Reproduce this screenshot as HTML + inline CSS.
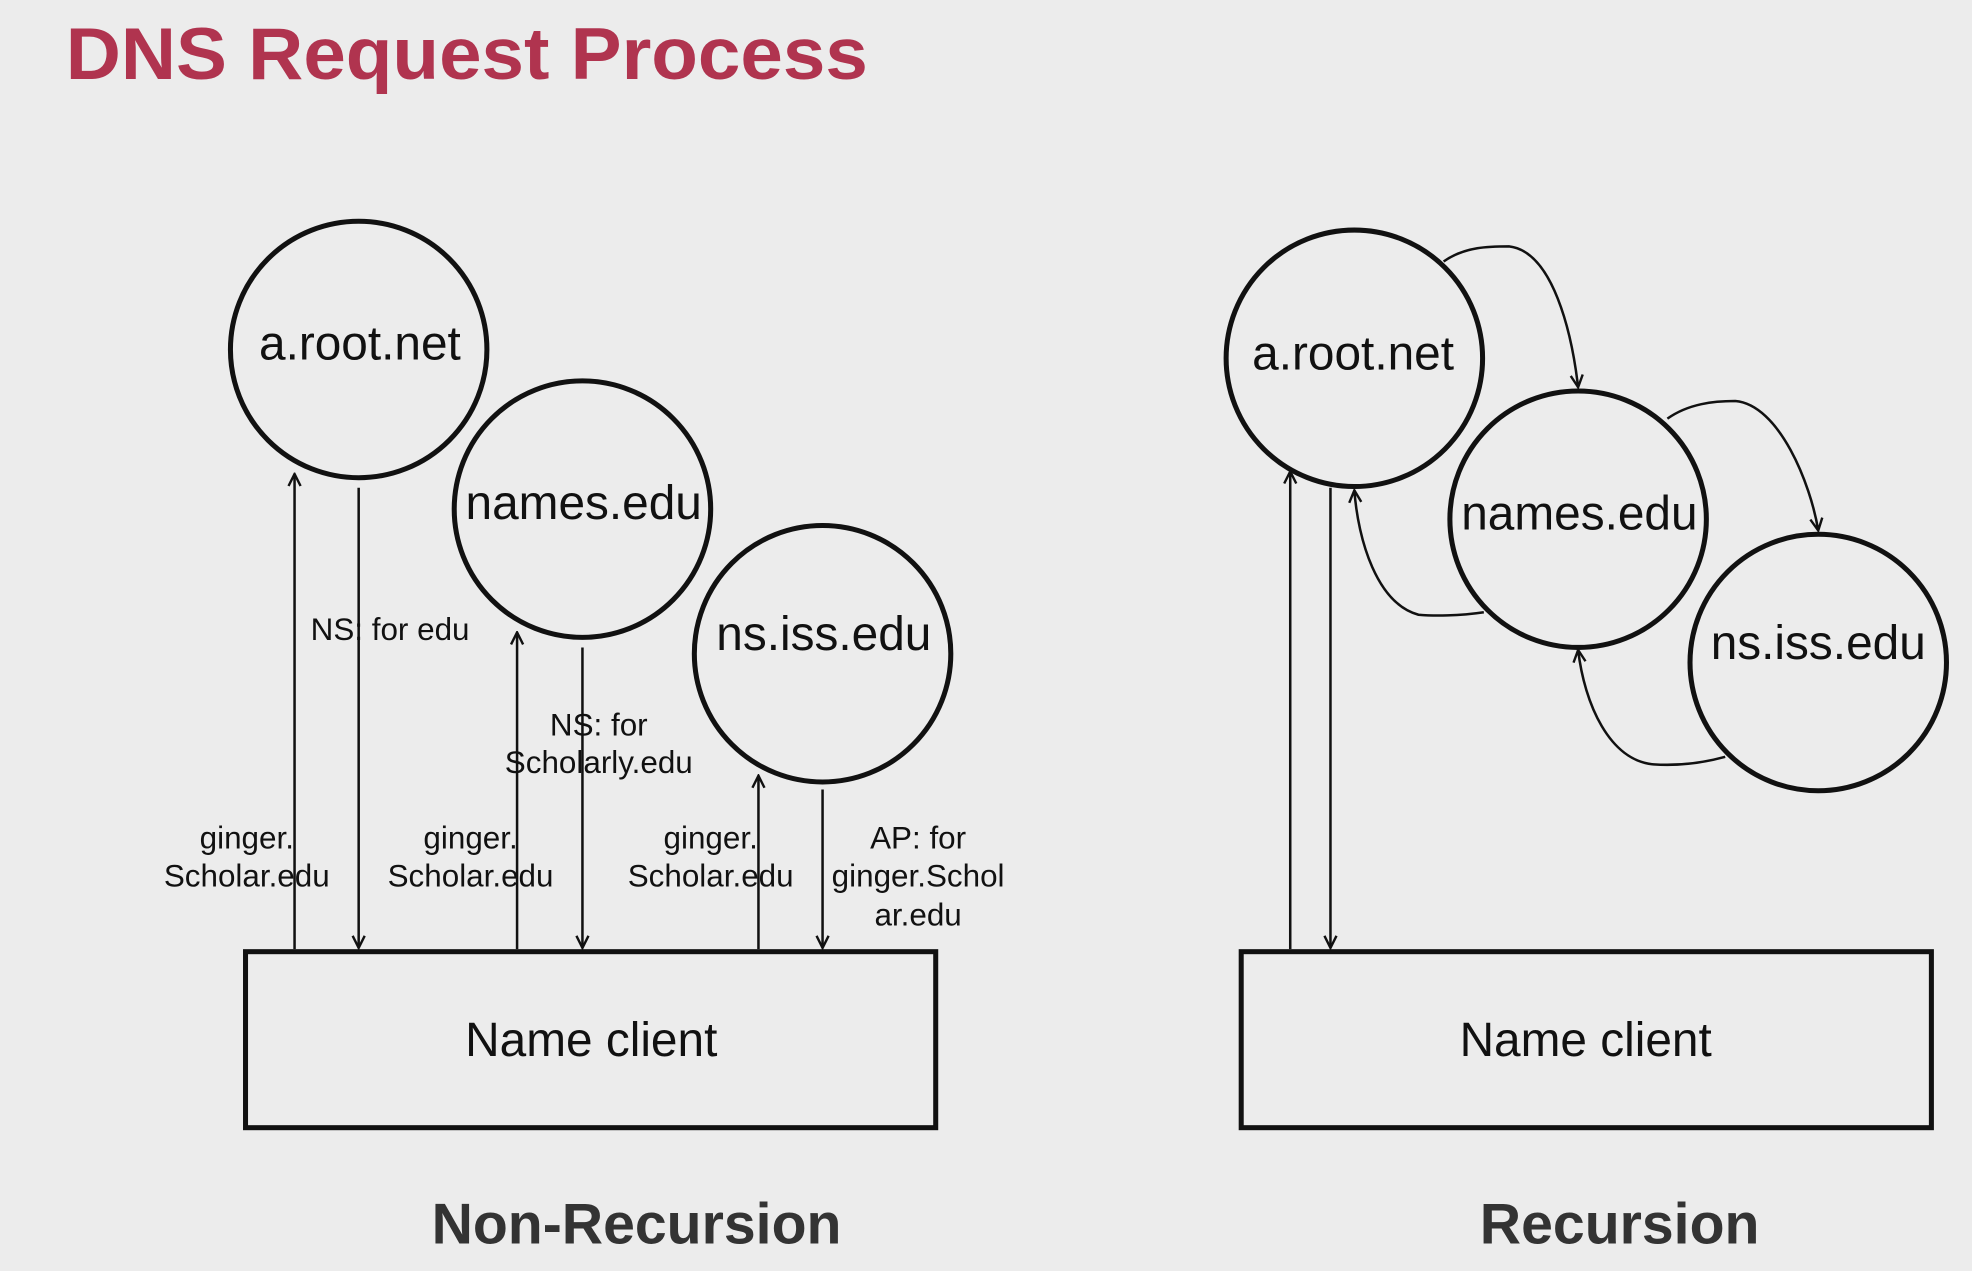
<!DOCTYPE html>
<html><head><meta charset="utf-8"><style>
html,body{margin:0;padding:0;background:#ececec;}
svg{display:block;}
text{font-family:"Liberation Sans",Arial,sans-serif;fill:#111;}
</style></head><body>
<svg width="1972" height="1271" viewBox="0 0 1568 1011" xmlns="http://www.w3.org/2000/svg">
<defs>
<marker id="b" viewBox="0 0 10 10" refX="9" refY="5" markerWidth="12" markerHeight="12" orient="auto" markerUnits="userSpaceOnUse">
<path d="M1,1 L9,5 L1,9" fill="none" stroke="#111" stroke-width="1.6"/>
</marker>
</defs>
<rect width="1568" height="1011" fill="#ececec"/>
<text x="52" y="63" font-size="58" font-weight="bold" style="fill:#b0344f" textLength="638" lengthAdjust="spacingAndGlyphs">DNS Request Process</text>

<g fill="none" stroke="#111" stroke-width="4">
<circle cx="285" cy="278" r="102"/>
<circle cx="463" cy="405" r="102"/>
<circle cx="654" cy="520" r="102"/>
<circle cx="1077" cy="285" r="102"/>
<circle cx="1255" cy="413" r="102"/>
<circle cx="1446" cy="527" r="102"/>
<rect x="195" y="757" width="549" height="140"/>
<rect x="987" y="757" width="549" height="140"/>
</g>

<g stroke="#111" stroke-width="2" fill="none">
<line x1="234" y1="755" x2="234" y2="377" marker-end="url(#b)"/>
<line x1="285" y1="388" x2="285" y2="754" marker-end="url(#b)"/>
<line x1="411" y1="755" x2="411" y2="503" marker-end="url(#b)"/>
<line x1="463" y1="515" x2="463" y2="754" marker-end="url(#b)"/>
<line x1="603" y1="755" x2="603" y2="617" marker-end="url(#b)"/>
<line x1="654" y1="628" x2="654" y2="754" marker-end="url(#b)"/>
<line x1="1026" y1="755" x2="1026" y2="375" marker-end="url(#b)"/>
<line x1="1058" y1="388" x2="1058" y2="754" marker-end="url(#b)"/>
<path d="M1148,208 C1165,196 1185,196 1200,196 C1235,200 1250,265 1255,308" marker-end="url(#b)"/>
<path d="M1326,333 C1343,321 1363,319 1380,319 C1415,322 1440,385 1446,422" marker-end="url(#b)"/>
<path d="M1180,487 C1160,490 1140,490 1128,489 C1095,480 1080,430 1077,390" marker-end="url(#b)"/>
<path d="M1372,602 C1350,608 1330,609 1315,608 C1280,605 1260,560 1255,517" marker-end="url(#b)"/>
</g>

<g font-size="38" text-anchor="middle">
<text x="286" y="286">a.root.net</text>
<text x="464" y="413">names.edu</text>
<text x="655" y="517">ns.iss.edu</text>
<text x="1076" y="294">a.root.net</text>
<text x="1256" y="421">names.edu</text>
<text x="1446" y="524">ns.iss.edu</text>
<text x="470" y="840">Name client</text>
<text x="1261" y="840">Name client</text>
</g>

<g font-size="25" text-anchor="middle">
<text x="310" y="509">NS: for edu</text>
<text x="476" y="585">NS: for</text>
<text x="476" y="615">Scholarly.edu</text>
<text x="196" y="675">ginger.</text>
<text x="196" y="705">Scholar.edu</text>
<text x="374" y="675">ginger.</text>
<text x="374" y="705">Scholar.edu</text>
<text x="565" y="675">ginger.</text>
<text x="565" y="705">Scholar.edu</text>
<text x="730" y="675">AP: for</text>
<text x="730" y="705">ginger.Schol</text>
<text x="730" y="736">ar.edu</text>
</g>

<g font-size="45.5" font-weight="bold" text-anchor="middle">
<text x="506" y="989" style="fill:#333">Non-Recursion</text>
<text x="1288" y="989" style="fill:#333">Recursion</text>
</g>
</svg>
</body></html>
